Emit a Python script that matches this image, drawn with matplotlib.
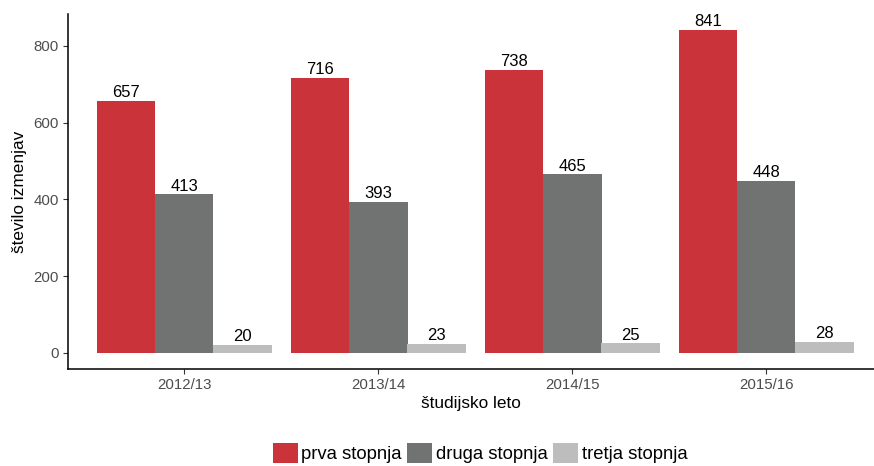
import matplotlib
matplotlib.use("Agg")
import matplotlib.pyplot as plt
from matplotlib.patches import Patch
import numpy as np

plt.rcParams['font.family'] = ['Liberation Sans', 'DejaVu Sans']

years = ["2012/13", "2013/14", "2014/15", "2015/16"]
series_names = ["prva stopnja", "druga stopnja", "tretja stopnja"]
prva = [657, 716, 738, 841]
druga = [413, 393, 465, 448]
tretja = [20, 23, 25, 28]
yticks = [0, 200, 400, 600, 800]

colors = ["#CB333B", "#717372", "#BDBDBD"]
values = [prva, druga, tretja]

W, H = 874, 466
fig = plt.figure(figsize=(W / 100, H / 100), dpi=100)
ax = fig.add_axes([68 / W, 1 - 369 / H, (874 - 68) / W, (369 - 14) / H])

x = np.arange(1, len(years) + 1)
bw = 0.3
for i, (vals, c) in enumerate(zip(values, colors)):
    xs = x + (i - 1) * bw
    ax.bar(xs, vals, width=bw, color=c, edgecolor='none')
    for xi, v in zip(xs, vals):
        ax.text(xi, v + 2, str(v), ha='center', va='bottom', fontsize=12, color='black')

ax.set_xlim(0.4, 0.4 + (874 - 68) / 194)
ax.set_ylim(-42, 883)
ax.set_xticks(x)
ax.set_xticklabels(years)
ax.set_yticks(yticks)
ax.tick_params(axis='both', colors='#333333', labelcolor='#4D4D4D', labelsize=10.8, length=3.5, width=0.8, pad=3)
for s in ['top', 'right']:
    ax.spines[s].set_visible(False)
for s in ['left', 'bottom']:
    ax.spines[s].set_linewidth(1.1)
    ax.spines[s].set_color('black')
ax.set_xlabel("študijsko leto", fontsize=12.4, labelpad=3)
ax.set_ylabel("število izmenjav", fontsize=12.4, labelpad=5)

handles = [Patch(facecolor=c, edgecolor='none', label=n) for c, n in zip(colors, series_names)]
fig.legend(handles=handles, loc='center', bbox_to_anchor=(480 / W, 1 - 453 / H), ncol=3,
           frameon=False, fontsize=13.3, handlelength=1.35, handleheight=1.35,
           handletextpad=0.2, columnspacing=0.3, borderpad=0)

fig.savefig("out.png", dpi=100)
